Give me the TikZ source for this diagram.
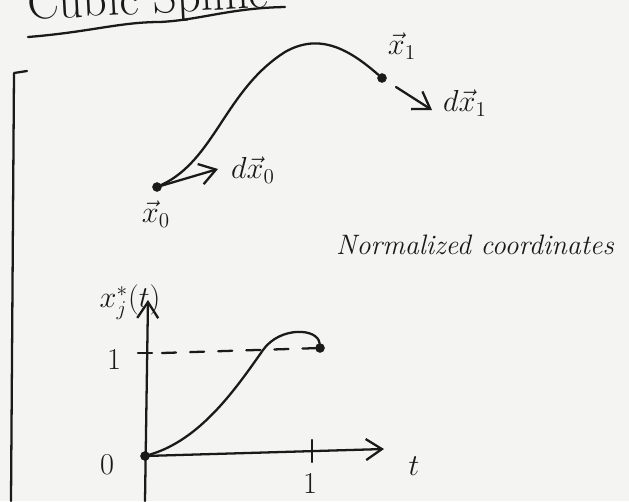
\documentclass[tikz,border=0pt]{standalone}
\usepackage{amsmath, amssymb}
\usepackage{xcolor}
\usepackage{tikz}
\usetikzlibrary{arrows.meta, calc}
\definecolor{inkBlack}{HTML}{1A1A1A}
\definecolor{paperWhite}{HTML}{F4F5F3}
\tikzset{
    sketch_line/.style={
        draw=inkBlack, line width=1.3pt, line cap=round, line join=round
    },
    sketch_arrow/.style={
        sketch_line, -{Straight Barb[length=3.2mm, width=4.2mm, line width=1.3pt]}
    },
    dot_pt/.style={
        circle, fill=inkBlack, draw=inkBlack, inner sep=0pt, minimum size=5pt
    },
    hand_lbl/.style={
        text=inkBlack, inner sep=1pt, font=\LARGE
    }
}
\begin{document}
\begin{tikzpicture}[x=0.02cm, y=-0.02cm]
    \useasboundingbox (0, 0) rectangle (629, 501);
    \fill[paperWhite] (0, 0) rectangle (629, 501);
    \clip (0, 0) rectangle (629, 501);

    % title, cut at the top edge
    \node[hand_lbl, anchor=base west, rotate=3, font=\fontsize{27}{30}\selectfont] (title) at (26, 20) {Cubic Spline};
    \draw[sketch_line] (28, 37) .. controls (90, 32) and (120, 22) .. (160, 22)
        .. controls (200, 20) and (230, 8) .. (285, 7);

    % left bracket
    \draw[sketch_line] (27, 71) -- (14, 73) -- (11, 501);

    % the spline
    \node[dot_pt] (x0dot) at (157, 187) {};
    \node[dot_pt] (x1dot) at (382, 78) {};
    \draw[sketch_line] (x0dot) .. controls (215, 160) and (225, 90) .. (285, 52)
        .. controls (320, 32) and (350, 50) .. (x1dot);

    \coordinate (dx0tip) at (218, 169);
    \coordinate (dx1tail) at (396, 87);
    \coordinate (dx1tip) at (432, 110);
    \draw[sketch_arrow] (x0dot) -- (dx0tip);
    \draw[sketch_arrow] (dx1tail) -- (dx1tip);

    \node[hand_lbl] (x0lbl) at (156, 214) {$\vec{x}_0$};
    \node[hand_lbl] (dx0lbl) at (253, 170) {$d\vec{x}_0$};
    \node[hand_lbl] (x1lbl) at (402, 46) {$\vec{x}_1$};
    \node[hand_lbl] (dx1lbl) at (465, 103) {$d\vec{x}_1$};

    \node[hand_lbl, font=\fontsize{16}{18}\selectfont\itshape] (normlbl) at (475, 245) {Normalized coordinates};

    % normalized plot
    \coordinate (origin) at (145, 456);
    \coordinate (ytop) at (148, 300);
    \coordinate (xend) at (384, 449);
    \coordinate (ybot) at (145, 501);
    \draw[sketch_arrow] (ybot) -- (ytop);
    \draw[sketch_arrow] (origin) -- (xend);

    \coordinate (xtick) at (312, 451);
    \coordinate (ytick) at (146, 353);
    \draw[sketch_line] ($(xtick)+(0, -11)$) -- ($(xtick)+(0, 11)$);
    \draw[sketch_line] ($(ytick)+(-8, 0)$) -- ($(ytick)+(6, 0)$);

    \node[dot_pt] (startdot) at (origin) {};
    \node[dot_pt] (enddot) at (320, 348) {};
    \draw[sketch_line] (startdot) .. controls (200, 440) and (235, 390) .. (263, 350)
        .. controls (280, 326) and (318, 328) .. (enddot);
    \draw[sketch_line, dashed, dash pattern=on 8pt off 8pt] ($(ytick)+(16, 0)$) -- (enddot);

    \node[hand_lbl] (ylbl) at (130, 302) {$x_j^*(t)$};
    \node[hand_lbl] (onelbl) at (114, 360) {$1$};
    \node[hand_lbl] (zerolbl) at (107, 465) {$0$};
    \node[hand_lbl] (xonelbl) at (310, 484) {$1$};
    \node[hand_lbl] (tlbl) at (414, 466) {$t$};
\end{tikzpicture}
\end{document}
